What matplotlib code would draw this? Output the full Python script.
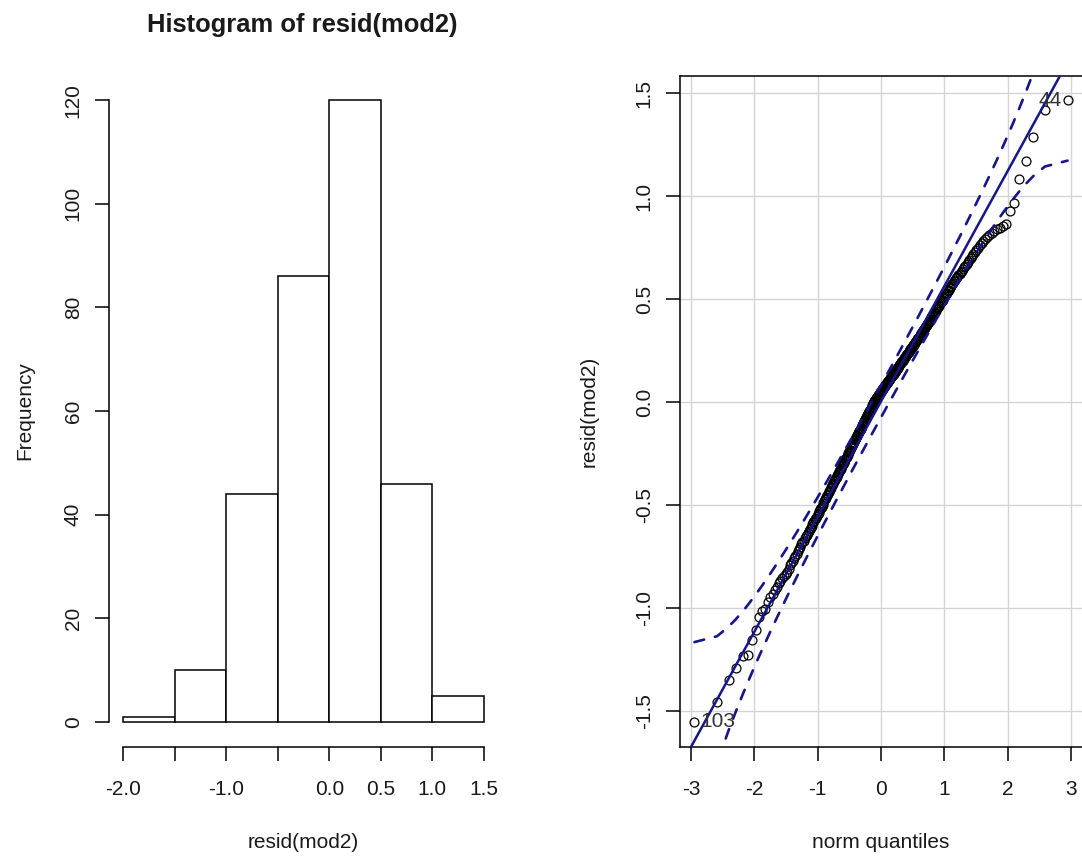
import statistics

import numpy as np
import matplotlib
matplotlib.use("Agg")
import matplotlib.pyplot as plt

plt.rcParams["font.family"] = ["Liberation Sans", "DejaVu Sans"]
plt.rcParams["axes.unicode_minus"] = False

# sorted residuals of mod2 (grouped by histogram bin)
resid_low_tail = [-1.552, -1.458, -1.351, -1.290, -1.233, -1.228, -1.155, -1.104, -1.045, -1.012,
                  -1.004]
resid_neg_far = [-0.969, -0.945, -0.929, -0.913, -0.897, -0.880, -0.866, -0.856, -0.845, -0.836,
                 -0.826, -0.808, -0.792, -0.781, -0.770, -0.757, -0.748, -0.735, -0.722, -0.712,
                 -0.703, -0.690, -0.681, -0.672, -0.660, -0.652, -0.645, -0.634, -0.625, -0.617,
                 -0.611, -0.600, -0.591, -0.583, -0.576, -0.567, -0.560, -0.551, -0.543, -0.536,
                 -0.529, -0.521, -0.514, -0.507]
resid_neg_near = [-0.498, -0.489, -0.482, -0.472, -0.465, -0.459, -0.451, -0.446, -0.438, -0.431,
                  -0.425, -0.417, -0.411, -0.404, -0.397, -0.392, -0.384, -0.379, -0.372, -0.366,
                  -0.361, -0.353, -0.348, -0.341, -0.335, -0.330, -0.323, -0.318, -0.311, -0.306,
                  -0.300, -0.293, -0.288, -0.282, -0.276, -0.271, -0.264, -0.259, -0.254, -0.247,
                  -0.242, -0.236, -0.231, -0.224, -0.219, -0.214, -0.208, -0.203, -0.197, -0.192,
                  -0.186, -0.181, -0.176, -0.170, -0.165, -0.160, -0.154, -0.149, -0.144, -0.139,
                  -0.134, -0.128, -0.123, -0.118, -0.113, -0.108, -0.102, -0.097, -0.092, -0.087,
                  -0.082, -0.077, -0.071, -0.066, -0.061, -0.056, -0.051, -0.046, -0.041, -0.036,
                  -0.031, -0.026, -0.021, -0.016, -0.011, -0.006]
resid_pos_near = [0.002, 0.006, 0.009, 0.013, 0.016, 0.020, 0.023, 0.027, 0.030, 0.034,
                  0.037, 0.041, 0.044, 0.048, 0.051, 0.055, 0.058, 0.062, 0.065, 0.068,
                  0.072, 0.075, 0.079, 0.082, 0.086, 0.089, 0.093, 0.096, 0.100, 0.103,
                  0.107, 0.110, 0.114, 0.117, 0.121, 0.124, 0.128, 0.131, 0.135, 0.139,
                  0.142, 0.146, 0.150, 0.153, 0.157, 0.161, 0.164, 0.168, 0.172, 0.176,
                  0.179, 0.183, 0.187, 0.190, 0.194, 0.198, 0.201, 0.205, 0.209, 0.213,
                  0.217, 0.221, 0.225, 0.229, 0.232, 0.236, 0.240, 0.244, 0.248, 0.252,
                  0.256, 0.260, 0.264, 0.268, 0.272, 0.276, 0.280, 0.284, 0.288, 0.292,
                  0.297, 0.301, 0.305, 0.310, 0.314, 0.318, 0.322, 0.327, 0.331, 0.336,
                  0.340, 0.345, 0.350, 0.354, 0.359, 0.364, 0.368, 0.373, 0.378, 0.384,
                  0.389, 0.395, 0.400, 0.406, 0.412, 0.417, 0.423, 0.428, 0.434, 0.440,
                  0.445, 0.451, 0.456, 0.462, 0.468, 0.474, 0.480, 0.486, 0.492, 0.498]
resid_pos_far = [0.504, 0.510, 0.517, 0.524, 0.531, 0.538, 0.544, 0.552, 0.559, 0.566,
                 0.574, 0.581, 0.588, 0.595, 0.601, 0.608, 0.616, 0.623, 0.631, 0.638,
                 0.646, 0.654, 0.663, 0.671, 0.682, 0.692, 0.702, 0.711, 0.720, 0.730,
                 0.740, 0.750, 0.761, 0.772, 0.784, 0.793, 0.802, 0.812, 0.822, 0.831,
                 0.840, 0.848, 0.857, 0.866, 0.930, 0.967]
resid_high_tail = [1.083, 1.170, 1.288, 1.421, 1.465]

# labelled observations: name -> position in the sorted residuals
point_labels = {"103": 0, "44": -1}
line_intercept = 0.004
line_slope = 0.559

hist_breaks = [-2.0, -1.5, -1.0, -0.5, 0.0, 0.5, 1.0, 1.5]
hist_xlabels = ["-2.0", "", "-1.0", "", "0.0", "0.5", "1.0", "1.5"]
freq_ticks = [0, 20, 40, 60, 80, 100, 120]
qq_xticks = [-3, -2, -1, 0, 1, 2, 3]
qq_yticks = [-1.5, -1.0, -0.5, 0.0, 0.5, 1.0, 1.5]

resid = np.array(resid_low_tail + resid_neg_far + resid_neg_near + resid_pos_near
                 + resid_pos_far + resid_high_tail)

TXT = "#1a1a1a"
NAVY = "#16168a"
W, H = 1082, 857
fig = plt.figure(figsize=(W / 100, H / 100), dpi=100)


def px_axes(x0, y0, x1, y1):
    return fig.add_axes([x0 / W, 1 - y1 / H, (x1 - x0) / W, (y1 - y0) / H])


# ---- histogram ----
ax1 = px_axes(108.6, 75.4, 498.4, 746.8)
counts, _, _ = ax1.hist(resid, bins=hist_breaks, facecolor="white", edgecolor="black",
                        linewidth=1.1)
xspan = hist_breaks[-1] - hist_breaks[0]
ax1.set_xlim(hist_breaks[0] - 0.04 * xspan, hist_breaks[-1] + 0.04 * xspan)
ax1.set_ylim(-0.04 * counts.max(), 1.04 * counts.max())
for s in ["top", "right"]:
    ax1.spines[s].set_visible(False)
ax1.spines["left"].set_bounds(0, counts.max())
ax1.spines["bottom"].set_bounds(hist_breaks[0], hist_breaks[-1])
ax1.set_xticks(hist_breaks)
ax1.set_xticklabels(hist_xlabels)
ax1.set_yticks(freq_ticks)
ax1.set_yticklabels([str(t) for t in freq_ticks], rotation=90, va="center")

# ---- QQ plot ----
ax2 = px_axes(679.5, 75.6, 1082.5, 746.7)
n = len(resid)
nd = statistics.NormalDist()
P = (np.arange(1, n + 1) - 0.5) / n
z = np.array([nd.inv_cdf(p) for p in P])
dens = np.array([nd.pdf(v) for v in z])
fit = line_intercept + line_slope * z
se = line_slope / dens * np.sqrt(P * (1 - P) / n)
zz = nd.inv_cdf(0.975)

ax2.plot(z, resid, "o", ms=6.4, mfc="none", mec="black", mew=0.9, zorder=3)
ax2.axline((0, line_intercept), slope=line_slope, color=NAVY, lw=1.8, zorder=4)
for band in (fit + zz * se, fit - zz * se):
    ax2.plot(z, band, color=NAVY, lw=1.9, ls=(0, (3.8, 4.2)), dash_capstyle="round", zorder=4)

for name, idx in point_labels.items():
    side = -1 if z[idx] > 0 else 1
    ax2.annotate(name, (z[idx], resid[idx]), xytext=(side * 4, 0), textcoords="offset points",
                 ha="right" if side < 0 else "left", va="center", fontsize=15, color="#333333",
                 zorder=5)

xr = z.max() - z.min()
yr = resid.max() - resid.min()
ax2.set_xlim(z.min() - 0.04 * xr, z.max() + 0.04 * xr)
ax2.set_ylim(resid.min() - 0.04 * yr, resid.max() + 0.04 * yr)
ax2.set_xticks(qq_xticks)
ax2.set_xticklabels([str(t) for t in qq_xticks])
ax2.set_yticks(qq_yticks)
ax2.set_yticklabels([f"{t:.1f}" for t in qq_yticks], rotation=90, va="center")
ax2.grid(color="#d4d4d4", lw=1.0)
ax2.set_axisbelow(True)

for ax in (ax1, ax2):
    for s in ax.spines.values():
        s.set_linewidth(1.1)
    ax.tick_params(axis="both", direction="out", length=10, width=1.1, labelsize=15,
                   labelcolor=TXT)
    ax.tick_params(axis="x", pad=13.7)
    ax.tick_params(axis="y", pad=8.6)

fig.text(302.5 / W, 1 - 32.3 / H, "Histogram of resid(mod2)", ha="center", va="baseline",
         fontsize=18.4, fontweight="bold", color=TXT)
fig.text(303 / W, 1 - 848 / H, "resid(mod2)", ha="center", va="baseline", fontsize=15, color=TXT)
fig.text(25 / W, 1 - 411 / H, "Frequency", ha="center", va="center", rotation=90, fontsize=15,
         color=TXT)
fig.text(881 / W, 1 - 848 / H, "norm quantiles", ha="center", va="baseline", fontsize=15,
         color=TXT)
fig.text(589 / W, 1 - 411 / H, "resid(mod2)", ha="center", va="center", rotation=90, fontsize=15,
         color=TXT)

fig.savefig("out.png", dpi=100)
